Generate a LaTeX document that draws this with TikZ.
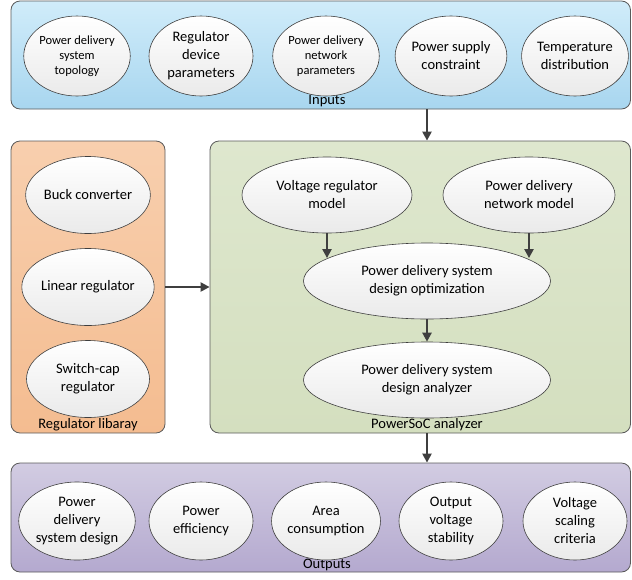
\documentclass[tikz,border=0pt]{standalone}
\usepackage{fontspec}
\setmainfont{Carlito}
\usepackage{tikz}
\usepackage{xcolor}
\usetikzlibrary{arrows.meta,positioning,calc,shapes.geometric}
\definecolor{edge}{HTML}{3F3F3F}
\definecolor{frame}{HTML}{5A5A5A}
\definecolor{intop}{HTML}{D0ECFA}
\definecolor{inbot}{HTML}{A8D6EF}
\definecolor{libtop}{HTML}{F8CFAE}
\definecolor{libbot}{HTML}{F4BC90}
\definecolor{soctop}{HTML}{DEE7CE}
\definecolor{socbot}{HTML}{D4DFBF}
\definecolor{outtop}{HTML}{D2CCE2}
\definecolor{outbot}{HTML}{B4A9CF}
\definecolor{bubtop}{HTML}{FFFFFF}
\definecolor{bubbot}{HTML}{EAEAEA}
\tikzset{
  panel/.style={draw=frame, rounded corners=9pt, line width=0.8pt, inner sep=0pt},
  bubble/.style={ellipse, draw=edge, line width=0.6pt, top color=bubtop, middle color=bubtop,
                 bottom color=bubbot, align=center, inner sep=0pt,
                 font=\fontsize{14.5}{18}\selectfont},
  smallbubble/.style={bubble, font=\fontsize{12.5}{15}\selectfont},
  plabel/.style={font=\fontsize{14.5}{16}\selectfont, inner sep=0pt},
  arrow/.style={-{Triangle[length=9pt,width=9pt]}, line width=2.2pt, draw=edge}
}

\begin{document}
\begin{tikzpicture}[x=1pt,y=-1pt]
        \useasboundingbox (0,0) rectangle (632,579);

        % panels
        \node[panel,top color=intop,bottom color=inbot,minimum width=619.5pt,minimum height=108pt] (inpanel) at (320.75,55) {};
        \node[panel,top color=libtop,bottom color=libbot,minimum width=154pt,minimum height=292pt] (libpanel) at (88,287) {};
        \node[panel,top color=soctop,bottom color=socbot,minimum width=420.5pt,minimum height=292pt] (socpanel) at (420.25,287) {};
        \node[panel,top color=outtop,bottom color=outbot,minimum width=619.5pt,minimum height=109pt] (outpanel) at (320.75,517.5) {};
        \node[plabel] (inlabel)  at (327,101) {Inputs};
        \node[plabel] (liblabel) at (88,425)  {Regulator libaray};
        \node[plabel] (soclabel) at (427,425) {PowerSoC analyzer};
        \node[plabel] (outlabel) at (327,565) {Outputs};

        % inputs row
        \node[smallbubble,minimum width=104pt,minimum height=80pt] (topo)   at (77,56)  {Power delivery\\system\\topology};
        \node[bubble,minimum width=104pt,minimum height=80pt]      (regdev) at (201,56) {Regulator\\device\\parameters};
        \node[smallbubble,minimum width=104pt,minimum height=80pt] (pdnpar) at (326,56) {Power delivery\\network\\parameters};
        \node[bubble,minimum width=106pt,minimum height=80pt]      (supply) at (451,56) {Power supply\\constraint};
        \node[bubble,minimum width=106pt,minimum height=80pt]      (temp)   at (575,56) {Temperature\\distribution};

        % regulator library
        \node[bubble,minimum width=123pt,minimum height=77pt] (buck)   at (88,195) {Buck converter};
        \node[bubble,minimum width=123pt,minimum height=77pt] (linear) at (88,287) {Linear regulator};
        \node[bubble,minimum width=123pt,minimum height=77pt] (swcap)  at (88,379) {Switch-cap\\regulator};

        % analyzer
        \node[bubble,minimum width=170pt,minimum height=76pt] (vrm)  at (327,195) {Voltage regulator\\model};
        \node[bubble,minimum width=172pt,minimum height=76pt] (pdnm) at (529,195) {Power delivery\\network model};
        \node[bubble,minimum width=247pt,minimum height=76pt] (opt)  at (427,281) {Power delivery system\\design optimization};
        \node[bubble,minimum width=247pt,minimum height=76pt] (ana)  at (427,380) {Power delivery system\\design analyzer};
        \draw[arrow] (vrm.south) -- (vrm.south |- opt.167);
        \draw[arrow] (pdnm.south) -- (pdnm.south |- opt.13);
        \draw[arrow] (opt.south) -- (ana.north);

        % outputs row
        \node[bubble,minimum width=104pt,minimum height=78pt] (pdsd) at (77,521)  {Power\\delivery\\system design};
        \node[bubble,minimum width=104pt,minimum height=78pt] (eff)  at (201,521) {Power\\efficiency};
        \node[bubble,minimum width=104pt,minimum height=78pt] (area) at (326,521) {Area\\consumption};
        \node[bubble,minimum width=104pt,minimum height=78pt] (stab) at (451,521) {Output\\voltage\\stability};
        \node[bubble,minimum width=104pt,minimum height=78pt] (scal) at (575,521) {Voltage\\scaling\\criteria};

        % flow between panels
        \draw[arrow] (opt.north |- inpanel.south) -- (opt.north |- socpanel.north);
        \draw[arrow] (libpanel.east) -- (socpanel.west);
        \draw[arrow] (opt.south |- socpanel.south) -- (opt.south |- outpanel.north);
\end{tikzpicture}
\end{document}
